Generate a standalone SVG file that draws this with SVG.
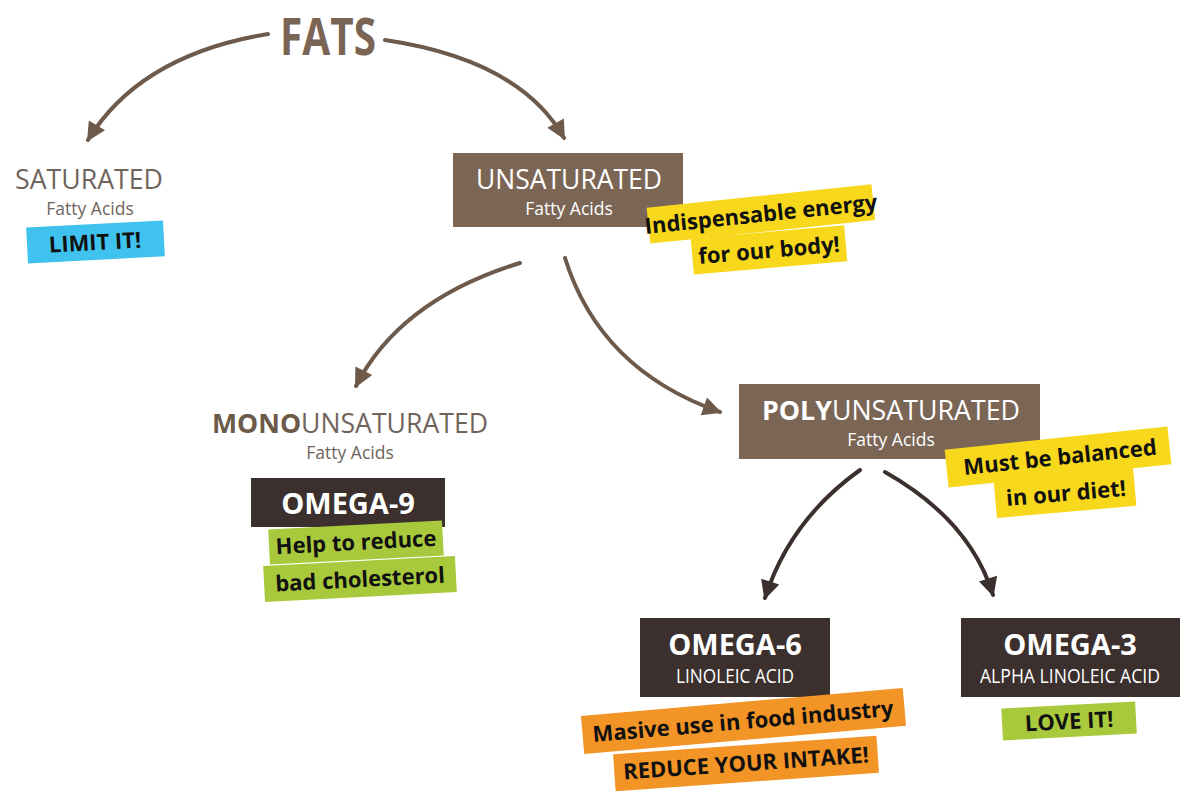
<svg xmlns="http://www.w3.org/2000/svg" width="1200" height="800" viewBox="0 0 1200 800">
<defs>
<style>
.head{font-family:"Liberation Sans Narrow","Open Sans","Liberation Sans",sans-serif;font-size:27px}
.sub{font-family:"Open Sans","Noto Sans",sans-serif;font-size:17.5px}
.omega{font-family:"Open Sans","Noto Sans",sans-serif;font-weight:700;font-size:29px;fill:#ffffff}
.acid{font-family:"Liberation Sans Narrow","Open Sans",sans-serif;font-size:20px;fill:#ffffff}
.note{font-family:"Open Sans","Lato",sans-serif;font-weight:700;font-size:22px;fill:#111111}
.brownbox{fill:#7b6656}
.darkbox{fill:#3b302d}
.yellow{fill:#f7d81c}
.green{fill:#a9c93d}
.orange{fill:#f39426}
.blue{fill:#3fc3ee}
.arrow{fill:none;stroke:#6e5a4b;stroke-width:4;stroke-linecap:round}
.arrowdark{fill:none;stroke:#3b302d;stroke-width:4;stroke-linecap:round}
</style>
<marker id="ah" viewBox="0 0 10 10" refX="9" refY="5" markerWidth="22" markerHeight="19" markerUnits="userSpaceOnUse" orient="auto">
<path d="M0,0 L10,5 L0,10 z" fill="#6e5a4b"/>
</marker>
<marker id="ahd" viewBox="0 0 10 10" refX="9" refY="5" markerWidth="22" markerHeight="19" markerUnits="userSpaceOnUse" orient="auto">
<path d="M0,0 L10,5 L0,10 z" fill="#3b302d"/>
</marker>
</defs>
<rect width="1200" height="800" fill="#ffffff"/>

<g id="connectors">
<path class="arrow" d="M268,34 Q140,55 88,140" marker-end="url(#ah)"/>
<path class="arrow" d="M385,40 Q520,60 564,138" marker-end="url(#ah)"/>
<path class="arrow" d="M520,263 Q400,300 356,386" marker-end="url(#ah)"/>
<path class="arrow" d="M565,258 Q600,370 720,412" marker-end="url(#ah)"/>
<path class="arrowdark" d="M860,470 Q790,520 765,598" marker-end="url(#ahd)"/>
<path class="arrowdark" d="M885,472 Q970,520 993,595" marker-end="url(#ahd)"/>
</g>

<g id="fats">
<text x="328" y="55" text-anchor="middle" font-family="Liberation Sans Narrow,Open Sans,sans-serif" font-weight="700" font-size="52" fill="#7a6454" textLength="96" lengthAdjust="spacingAndGlyphs">FATS</text>
</g>

<g id="saturated">
<text class="head" x="89" y="189" text-anchor="middle" fill="#6f645c" textLength="148" lengthAdjust="spacingAndGlyphs">SATURATED</text>
<text class="sub" x="90" y="215" text-anchor="middle" fill="#6f645c">Fatty Acids</text>
<g transform="rotate(-3 95 242)">
<rect class="blue" x="27" y="224" width="137" height="36"/>
<text class="note" x="95" y="250" text-anchor="middle">LIMIT IT!</text>
</g>
</g>

<g id="unsaturated">
<rect class="brownbox" x="453" y="153" width="230" height="74"/>
<text class="head" x="569" y="189" text-anchor="middle" fill="#ffffff" textLength="186" lengthAdjust="spacingAndGlyphs">UNSATURATED</text>
<text class="sub" x="569" y="215" text-anchor="middle" fill="#ffffff">Fatty Acids</text>
<g transform="rotate(-6 760 215)">
<rect class="yellow" x="648" y="196" width="226" height="36"/>
<text class="note" x="761" y="222" text-anchor="middle">Indispensable energy</text>
</g>
<g transform="rotate(-5 768 250)">
<rect class="yellow" x="692" y="232" width="154" height="36"/>
<text class="note" x="769" y="258" text-anchor="middle">for our body!</text>
</g>
</g>

<g id="mono">
<text class="head" x="350" y="433" text-anchor="middle" fill="#6f645c" textLength="276" lengthAdjust="spacingAndGlyphs"><tspan font-weight="700" fill="#6b5a48">MONO</tspan>UNSATURATED</text>
<text class="sub" x="350" y="459" text-anchor="middle" fill="#6f645c">Fatty Acids</text>
</g>

<g id="omega9">
<rect class="darkbox" x="251" y="478" width="194" height="49"/>
<text class="omega" x="348" y="514" text-anchor="middle">OMEGA-9</text>
<g transform="rotate(-3 356 543)">
<rect class="green" x="269" y="525" width="174" height="35"/>
<text class="note" x="356" y="550" text-anchor="middle">Help to reduce</text>
</g>
<g transform="rotate(-3 360 579)">
<rect class="green" x="264" y="561" width="192" height="36"/>
<text class="note" x="360" y="587" text-anchor="middle">bad cholesterol</text>
</g>
</g>

<g id="poly">
<rect class="brownbox" x="739" y="384" width="301" height="75"/>
<text class="head" x="891" y="420" text-anchor="middle" fill="#ffffff" textLength="258" lengthAdjust="spacingAndGlyphs"><tspan font-weight="700">POLY</tspan>UNSATURATED</text>
<text class="sub" x="891" y="446" text-anchor="middle" fill="#ffffff">Fatty Acids</text>
<g transform="rotate(-6 1058 457)">
<rect class="yellow" x="946" y="438" width="224" height="38"/>
<text class="note" x="1060" y="465" text-anchor="middle">Must be balanced</text>
</g>
<g transform="rotate(-5 1065 493)">
<rect class="yellow" x="995" y="474" width="140" height="38"/>
<text class="note" x="1066" y="501" text-anchor="middle">in our diet!</text>
</g>
</g>

<g id="omega6">
<rect class="darkbox" x="640" y="618" width="190" height="79"/>
<text class="omega" x="735" y="655" text-anchor="middle">OMEGA-6</text>
<text class="acid" x="735" y="683" text-anchor="middle" textLength="118" lengthAdjust="spacingAndGlyphs">LINOLEIC ACID</text>
<g transform="rotate(-5 743 721)">
<rect class="orange" x="582" y="702" width="323" height="38"/>
<text class="note" x="743" y="729" text-anchor="middle">Masive use in food industry</text>
</g>
<g transform="rotate(-4 746 763)">
<rect class="orange" x="614" y="745" width="264" height="37"/>
<text class="note" x="746" y="771" text-anchor="middle">REDUCE YOUR INTAKE!</text>
</g>
</g>

<g id="omega3">
<rect class="darkbox" x="961" y="618" width="219" height="79"/>
<text class="omega" x="1070" y="655" text-anchor="middle">OMEGA-3</text>
<text class="acid" x="1070" y="683" text-anchor="middle" textLength="180" lengthAdjust="spacingAndGlyphs">ALPHA LINOLEIC ACID</text>
<g transform="rotate(-3 1069 720)">
<rect class="green" x="1002" y="705" width="134" height="32"/>
<text class="note" x="1069" y="729" text-anchor="middle">LOVE IT!</text>
</g>
</g>
</svg>
